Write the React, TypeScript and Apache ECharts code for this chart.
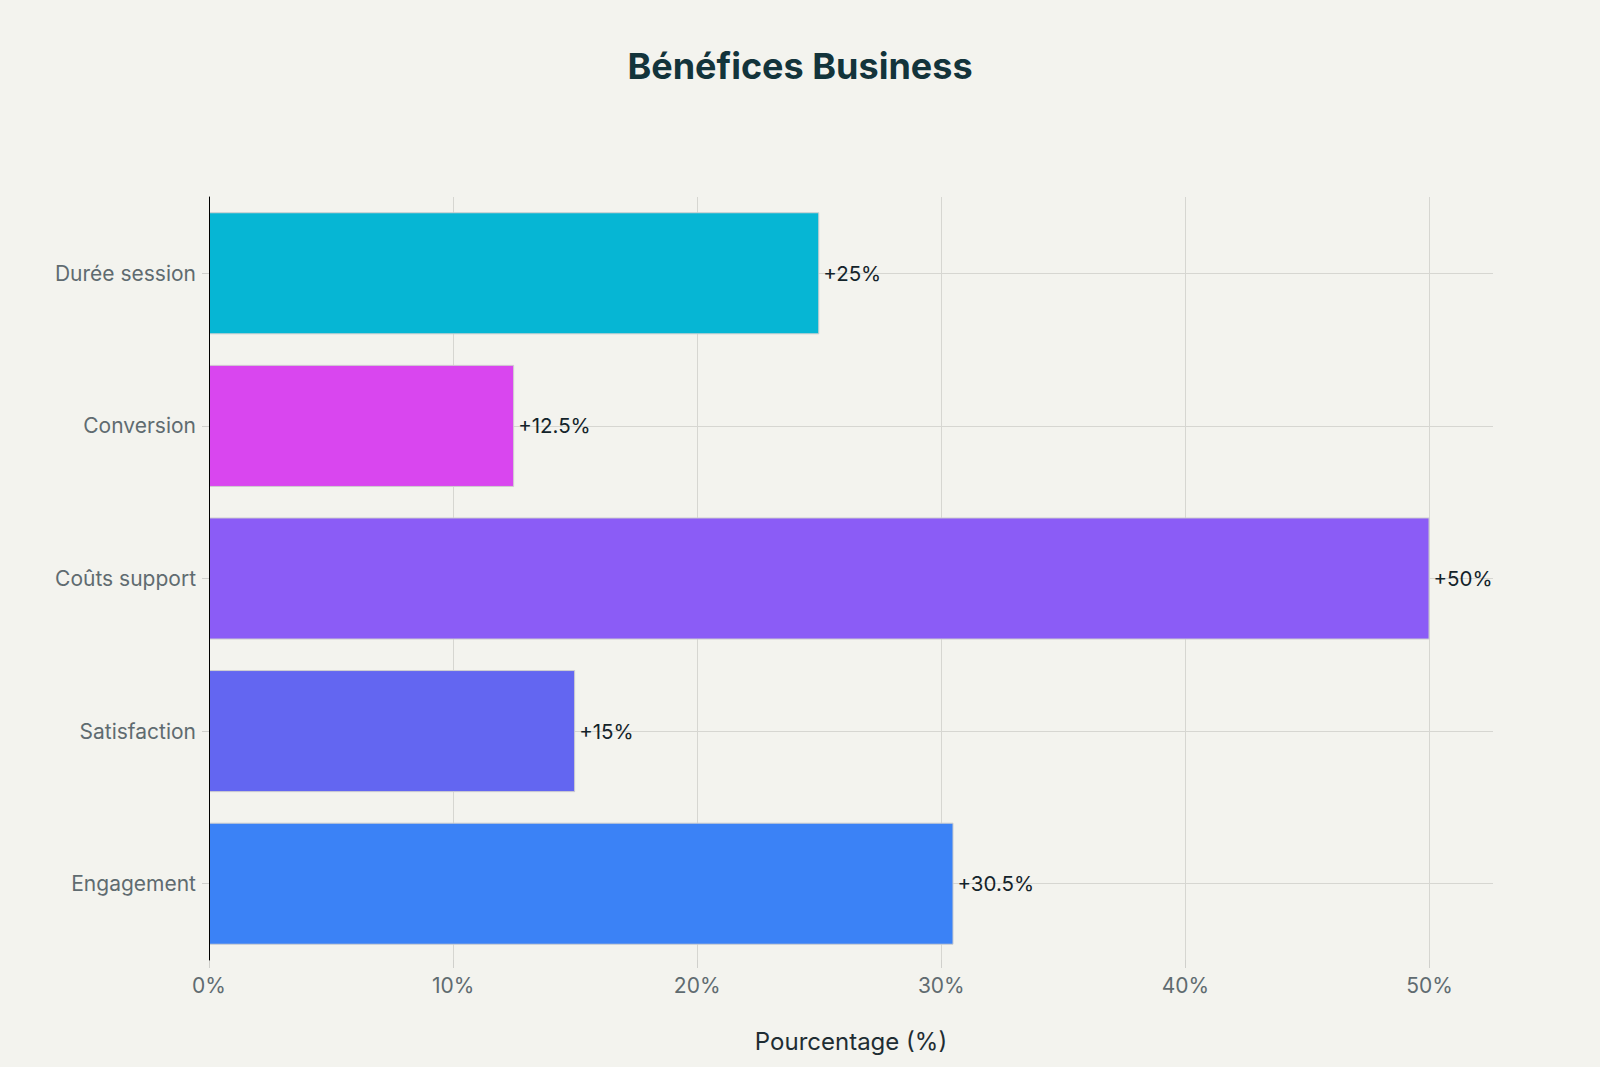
import React, { useEffect, useRef } from "react";
import * as echarts from "echarts";

const categories = ["Engagement", "Satisfaction", "Coûts support", "Conversion", "Durée session"];
const values = [30.5, 15, 50, 12.5, 25];
const colors = ["#3b82f6", "#6366f1", "#8b5cf6", "#d946ef", "#06b6d4"];
const xTicks = [0, 10, 20, 30, 40, 50];
const titleText = "Bénéfices Business";
const xAxisName = "Pourcentage (%)";

const FONT = "Inter, 'Noto Sans', sans-serif";

export default function App() {
  const ref = useRef<HTMLDivElement>(null);
  useEffect(() => {
    document.body.style.margin = "0";
    if (!ref.current) return;
    const chart = echarts.init(ref.current, null, { renderer: "svg" });
    chart.setOption({
      animation: false,
      backgroundColor: "#f3f3ee",
      textStyle: { fontFamily: FONT },
      title: {
        text: titleText,
        left: "center",
        top: 43,
        textStyle: { fontSize: 36, fontWeight: "bold", color: "#13343b", fontFamily: FONT },
      },
      grid: { left: 209, right: 107, top: 197, bottom: 107, containLabel: false },
      xAxis: {
        type: "value",
        min: xTicks[0],
        max: 52.6,
        interval: 10,
        name: xAxisName,
        nameLocation: "middle",
        nameGap: 69,
        nameTextStyle: { fontSize: 24, color: "#1f2d33", fontFamily: FONT },
        axisLine: { show: false },
        axisTick: { show: true, length: 8, customValues: xTicks, lineStyle: { color: "#d0d0cc" } },
        axisLabel: {
          fontSize: 21,
          color: "#5f6b70",
          margin: 15,
          fontFamily: FONT,
          customValues: xTicks,
          formatter: (v: number) => v + "%",
        },
        splitLine: { show: true, lineStyle: { color: "#d6d6d1", width: 1 } },
      },
      yAxis: {
        type: "category",
        data: categories,
        z: 5,
        axisLine: { show: true, lineStyle: { color: "#000000", width: 1 } },
        axisTick: { show: true, length: 7, alignWithLabel: true, lineStyle: { color: "#d0d0cc" } },
        axisLabel: { fontSize: 21, color: "#5f6b70", margin: 13, fontFamily: FONT },
        splitLine: { show: false },
      },
      series: [
        {
          type: "bar",
          z: 2,
          barCategoryGap: "20%",
          data: values.map((v, i) => ({ value: v, itemStyle: { color: colors[i] } })),
          itemStyle: { borderColor: "#cfcfcf", borderWidth: 1 },
          label: {
            show: true,
            position: "right",
            distance: 4,
            fontSize: 20.5,
            color: "#13232a",
            fontFamily: FONT,
            formatter: (p: any) => "+" + p.value + "%",
          },
          markLine: {
            z: 1,
            silent: true,
            symbol: ["none", "none"],
            label: { show: false },
            lineStyle: { color: "#d6d6d1", width: 1, type: "solid" },
            data: categories.map((c) => ({ yAxis: c })),
          },
        },
      ],
    });
    return () => chart.dispose();
  }, []);
  return <div ref={ref} style={{ width: 1600, height: 1067 }} />;
}
